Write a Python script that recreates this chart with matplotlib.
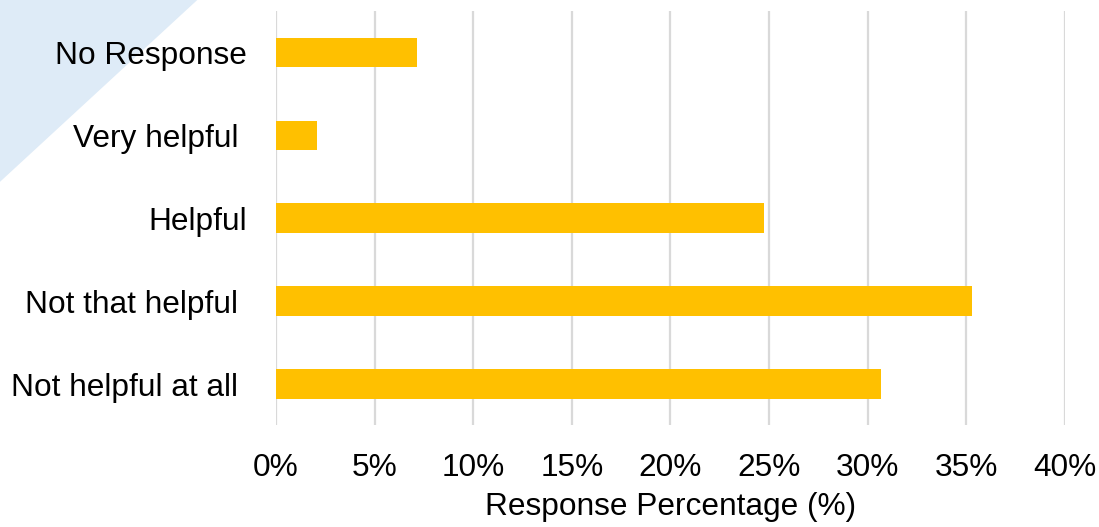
import matplotlib
matplotlib.use('Agg')
import matplotlib.pyplot as plt
from matplotlib.patches import Polygon

# survey answers, bottom to top
categories = ['Not helpful at all ', 'Not that helpful ', 'Helpful', 'Very helpful ', 'No Response']
percent = [30.65, 35.3, 24.75, 2.1, 7.15]
xticks = [0, 5, 10, 15, 20, 25, 30, 35, 40]

plt.rcParams['font.family'] = ['Liberation Sans', 'DejaVu Sans']

fig = plt.figure(figsize=(10.99, 5.27), dpi=100, facecolor='w')

# light blue corner decoration, kept behind the axes
tri = Polygon([[0, 1], [0.1795, 1], [0, 0.655]], closed=True,
              transform=fig.transFigure, facecolor='#DEEBF7', edgecolor='none', zorder=-5)
fig.patches.append(tri)

ax = fig.add_axes([0.2511, 0.1926, 0.718, 0.7874])
ax.set_zorder(1)
ax.patch.set_alpha(0)
ax.set_axisbelow(True)

ax.barh(range(len(categories)), percent, height=0.35, color='#FFC000')
ax.set_yticks(range(len(categories)))
ax.set_yticklabels(categories)
ax.set_ylim(-0.5, len(categories) - 0.5)

ax.set_xlim(0, 40)
ax.set_xticks(xticks)
ax.set_xticklabels([f'{v}%' for v in xticks])
ax.set_xlabel('Response Percentage (%)', fontsize=22.8, labelpad=6)

ax.tick_params(axis='x', length=0, labelsize=22.8, pad=20)
ax.tick_params(axis='y', length=0, labelsize=22.8, pad=21)
ax.grid(axis='x', color='#D9D9D9', lw=1.6)
for spine in ('top', 'right', 'bottom', 'left'):
    ax.spines[spine].set_visible(False)

fig.savefig('out.png', dpi=100, facecolor='w')
